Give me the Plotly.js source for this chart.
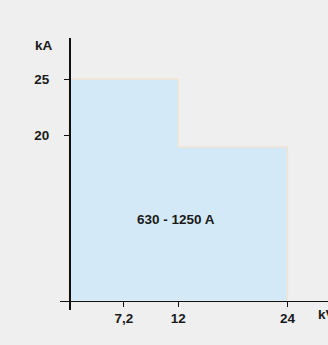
<!DOCTYPE html>
<html>
<head>
<meta charset="utf-8">
<script src="https://cdn.plot.ly/plotly-3.0.1.min.js"></script>
<style>
html,body{margin:0;padding:0;background:#eeefee;}
#chart{width:328px;height:345px;}
</style>
</head>
<body>
<div id="chart"></div>
<script>
// Data
const stepX = [0, 0, 12, 12, 24, 24];          // kV
const stepY = [5.47, 25, 25, 19, 19, 5.47];    // kA
const xTickVals = [6.04, 12, 24];
const xTickText = ["7,2", "12", "24"];
const yTickVals = [20, 25];
const yTickText = ["20", "25"];
const areaLabel = "630 - 1250 A";

const font = {family: "Arial, 'Liberation Sans', Helvetica, sans-serif", size: 13.5, color: "#1a1a1a", weight: "bold"};

const trace = {
  x: stepX, y: stepY,
  type: "scatter", mode: "lines",
  fill: "toself",
  fillcolor: "#d4e9f7",
  line: {color: "#f2e4d4", width: 1.5},
  hoverinfo: "skip"
};

const layout = {
  width: 328, height: 345,
  margin: {l: 60, r: 0, t: 38, b: 35},
  paper_bgcolor: "#eeefee",
  plot_bgcolor: "rgba(0,0,0,0)",
  showlegend: false,
  font: font,
  xaxis: {
    range: [-0.989, 28.46],
    anchor: "free", position: 0.0349,
    showgrid: false, zeroline: false,
    showline: true, linecolor: "#111", linewidth: 1.5,
    ticks: "outside", ticklen: 5, tickcolor: "#111", tickwidth: 1,
    tickvals: xTickVals, ticktext: xTickText,
    tickfont: font, fixedrange: true
  },
  yaxis: {
    range: [4.63, 28.62],
    anchor: "free", position: 0.0336,
    showgrid: false, zeroline: false,
    showline: true, linecolor: "#111", linewidth: 1.5,
    ticks: "outside", ticklen: 5, tickcolor: "#111", tickwidth: 1,
    tickvals: yTickVals, ticktext: yTickText,
    tickfont: font, ticklabelstandoff: 12, fixedrange: true
  },
  annotations: [
    {text: "kA", xref: "paper", yref: "paper", x: -0.06, y: 0.974, xanchor: "center", yanchor: "middle", showarrow: false, font: font},
    {text: "kV", xref: "paper", yref: "paper", x: 0.955, y: -0.018, xanchor: "left", yanchor: "middle", showarrow: false, font: font},
    {text: areaLabel, xref: "x", yref: "y", x: 11.8, y: 12.6, xanchor: "center", yanchor: "middle", showarrow: false, font: font}
  ]
};

Plotly.newPlot("chart", [trace], layout, {displayModeBar: false, staticPlot: true});
</script>
</body>
</html>
